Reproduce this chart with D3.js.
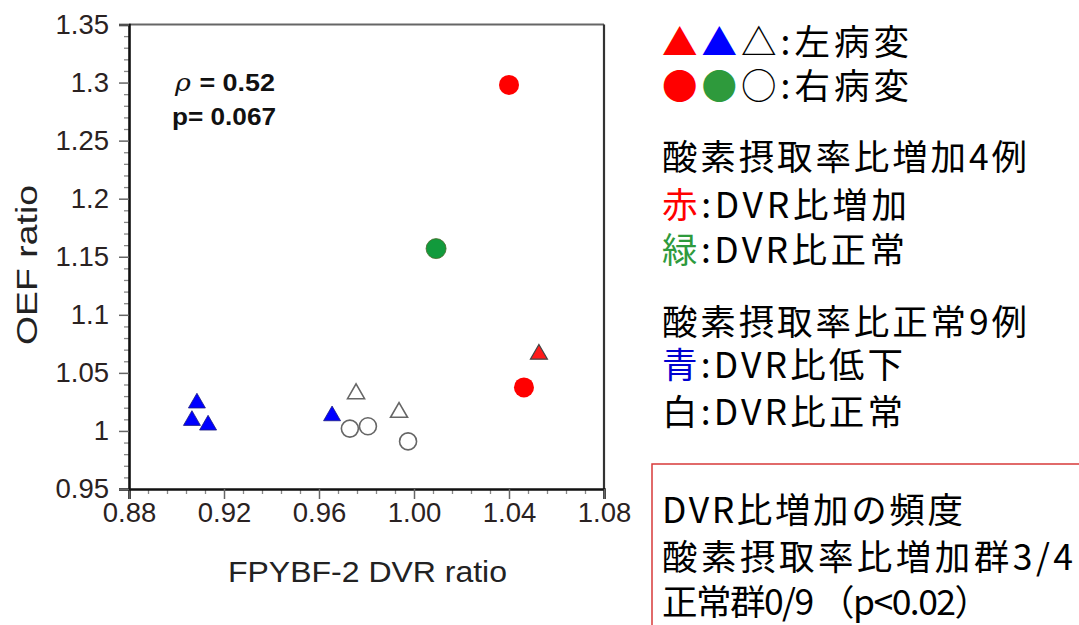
<!DOCTYPE html>
<html><head><meta charset="utf-8">
<script src="https://cdn.jsdelivr.net/npm/d3@7"></script>
<style>body{margin:0;background:#fff}svg{display:block}</style>
</head><body>
<svg id="c" width="1079" height="625"></svg>
<script>
// ---- data ----
const xTicks = [0.88, 0.92, 0.96, 1.00, 1.04, 1.08];
const xTickLabels = ["0.88", "0.92", "0.96", "1.00", "1.04", "1.08"];
const yTicks = [0.95, 1.0, 1.05, 1.1, 1.15, 1.2, 1.25, 1.3, 1.35];
const yTickLabels = ["0.95", "1", "1.05", "1.1", "1.15", "1.2", "1.25", "1.3", "1.35"];
const xTitle = "FPYBF-2 DVR ratio";
const yTitle = "OEF ratio";
const statRho = "= 0.52";
const statP = "p= 0.067";
// left lesion (triangles)
const leftRed   = [[1.0526, 1.066]];
const leftBlue  = [[0.9086, 1.024], [0.9065, 1.009], [0.9133, 1.005], [0.9655, 1.013]];
const leftWhite = [[0.9756, 1.032], [0.9937, 1.016]];
// right lesion (circles)
const rightRed   = [[1.0400, 1.298], [1.0463, 1.0375]];
const rightGreen = [[1.0093, 1.157]];
const rightWhite = [[0.9730, 1.002], [0.9806, 1.004], [0.9975, 0.991]];

const legendLines = [
  {parts: [["▲", "#ff0000"], ["▲", "#0000ff"], ["△", "#000"], [":左病変", "#000"]]},
  {parts: [["●", "#ff0000"], ["●", "#2e9a3c"], ["○", "#000"], [":右病変", "#000"]]},
  {parts: [["酸素摂取率比増加4例", "#000"]]},
  {parts: [["赤", "#ff0000"], [":DVR比増加", "#000"]]},
  {parts: [["緑", "#2e9a3c"], [":DVR比正常", "#000"]]},
  {parts: [["酸素摂取率比正常9例", "#000"]]},
  {parts: [["青", "#0000d0"], [":DVR比低下", "#000"]]},
  {parts: [["白", "#000"], [":DVR比正常", "#000"]]}
];
const boxLines = ["DVR比増加の頻度", "酸素摂取率比増加群3/4", "正常群0/9 （p<0.02）"];

// ---- layout ----
const svg = d3.select("#c");
const x = d3.scaleLinear().domain([0.88, 1.08]).range([129, 604]);
const y = d3.scaleLinear().domain([0.95, 1.35]).range([489, 24.5]);
const tickFont = "'Liberation Sans', Arial, sans-serif";

// frame top & right
svg.append("line").attr("x1", x(0.88)).attr("x2", x(1.08)).attr("y1", y(1.35)).attr("y2", y(1.35))
  .attr("stroke", "#666").attr("stroke-width", 2.2);
svg.append("line").attr("x1", x(1.08)).attr("x2", x(1.08)).attr("y1", y(1.35)).attr("y2", y(0.95))
  .attr("stroke", "#333").attr("stroke-width", 2.2);

// minor ticks
const xMinor = d3.range(0, 26).map(i => 0.88 + i * 0.008).filter((v, i) => i % 5 !== 0);
const yMinor = d3.range(0, 41).map(i => 0.95 + i * 0.01).filter((v, i) => i % 5 !== 0);
const gxm = svg.append("g").attr("transform", `translate(0,${y(0.95)})`)
  .call(d3.axisBottom(x).tickValues(xMinor).tickSize(5).tickFormat(""));
gxm.select(".domain").remove();
gxm.selectAll("line").attr("stroke", "#888").attr("stroke-width", 1.3);
const gym = svg.append("g").attr("transform", `translate(${x(0.88)},0)`)
  .call(d3.axisLeft(y).tickValues(yMinor).tickSize(5).tickFormat(""));
gym.select(".domain").remove();
gym.selectAll("line").attr("stroke", "#888").attr("stroke-width", 1.3);

// major axes
const gx = svg.append("g").attr("transform", `translate(0,${y(0.95)})`)
  .call(d3.axisBottom(x).tickValues(xTicks).tickSize(10).tickPadding(8)
    .tickFormat((d, i) => xTickLabels[i]));
gx.select(".domain").attr("stroke", "#111").attr("stroke-width", 2.6);
gx.selectAll("line").attr("stroke", "#666").attr("stroke-width", 1.5);
gx.selectAll("text").attr("font-family", tickFont).attr("font-size", 27.5).attr("fill", "#2a2222")
  .attr("dy", "0.71em").attr("y", 13);

const gy = svg.append("g").attr("transform", `translate(${x(0.88)},0)`)
  .call(d3.axisLeft(y).tickValues(yTicks).tickSize(10).tickPadding(10)
    .tickFormat((d, i) => yTickLabels[i]));
gy.select(".domain").attr("stroke", "#111").attr("stroke-width", 2.6);
gy.selectAll("line").attr("stroke", "#666").attr("stroke-width", 1.5);
gy.selectAll("text").attr("font-family", tickFont).attr("font-size", 27.5).attr("fill", "#2a2222");

// axis titles
svg.append("text").attr("x", 367.5).attr("y", 582).attr("text-anchor", "middle")
  .attr("font-family", tickFont).attr("font-size", 30).attr("fill", "#222")
  .attr("textLength", 279).attr("lengthAdjust", "spacingAndGlyphs").text(xTitle);
svg.append("text").attr("transform", "translate(37,265) rotate(-90)").attr("text-anchor", "middle")
  .attr("font-family", tickFont).attr("font-size", 30).attr("fill", "#222")
  .attr("textLength", 160).attr("lengthAdjust", "spacingAndGlyphs").text(yTitle);

// stats
const st = svg.append("text").attr("x", 175).attr("y", 91).attr("font-family", tickFont)
  .attr("font-size", 24).attr("font-weight", "bold").attr("fill", "#111")
  .attr("textLength", 100).attr("lengthAdjust", "spacingAndGlyphs");
st.append("tspan").attr("font-style", "italic").attr("font-weight", "normal").attr("font-family", "'DejaVu Serif', serif").text("ρ ");
st.append("tspan").text(statRho);
svg.append("text").attr("x", 172).attr("y", 125).attr("font-family", tickFont)
  .attr("font-size", 24).attr("font-weight", "bold").attr("fill", "#111")
  .attr("textLength", 104).attr("lengthAdjust", "spacingAndGlyphs").text(statP);

// markers
const tri = d3.symbol().type(d3.symbolTriangle).size(125)();
function triangles(data, fill, stroke, sw) {
  svg.append("g").selectAll("path").data(data).join("path")
    .attr("d", tri).attr("transform", d => `translate(${x(d[0])},${y(d[1])})`)
    .attr("fill", fill).attr("stroke", stroke).attr("stroke-width", sw);
}
function circles(data, r, fill, stroke, sw) {
  svg.append("g").selectAll("circle").data(data).join("circle")
    .attr("cx", d => x(d[0])).attr("cy", d => y(d[1])).attr("r", r)
    .attr("fill", fill).attr("stroke", stroke).attr("stroke-width", sw);
}
circles(rightWhite, 8.5, "#fff", "#666", 1.6);
triangles(leftWhite, "#fff", "#666", 1.6);
triangles(leftBlue, "#0000ff", "#1a1a80", 0.8);
triangles(leftRed, "#ff1a1a", "#444", 1.2);
circles(rightRed, 10, "#ff0000", "none", 0);
circles(rightGreen, 10, "#129a3c", "#4a6a2a", 0.8);

// legend
const cjk = "'Noto Sans CJK JP', 'Noto Sans CJK SC', sans-serif";
const legendBase = [55, 99, 170, 218, 263, 335, 378, 425];
const legendW = [247, 247, 365, 245, 243, 365, 241, 241];
legendLines.forEach((ln, i) => {
  const t = svg.append("text").attr("x", 662).attr("y", legendBase[i])
    .attr("font-family", cjk).attr("font-size", 35.5)
    .attr("textLength", legendW[i]).attr("lengthAdjust", "spacing");
  ln.parts.forEach(p => t.append("tspan").attr("fill", p[1]).text(p[0]));
});

// box
svg.append("rect").attr("x", 652).attr("y", 464).attr("width", 500).attr("height", 300)
  .attr("fill", "none").attr("stroke", "#d83a3a").attr("stroke-width", 1.5);
const boxBase = [523, 570, 615];
const boxW = [301, 411, 328];
boxLines.forEach((s, i) => {
  svg.append("text").attr("x", 662).attr("y", boxBase[i])
    .attr("font-family", cjk).attr("font-size", 35.5).attr("fill", "#000")
    .attr("textLength", boxW[i]).attr("lengthAdjust", "spacing").text(s);
});
</script>
</body></html>
